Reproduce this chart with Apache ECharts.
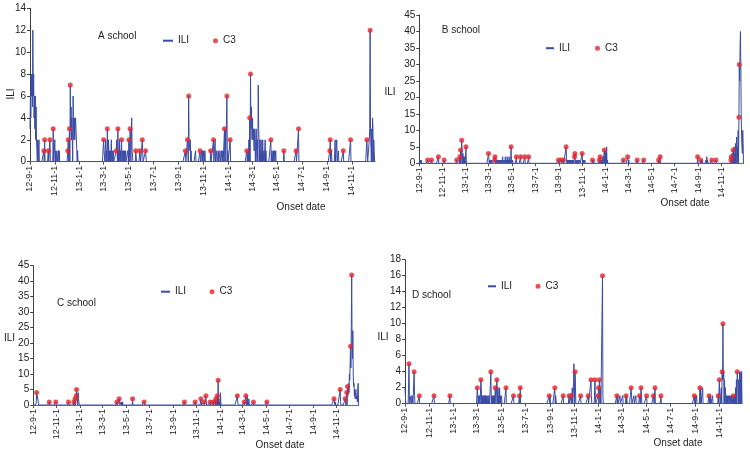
<!DOCTYPE html>
<html>
<head>
<meta charset="utf-8">
<script src="https://cdn.jsdelivr.net/npm/echarts@6/dist/echarts.min.js"></script>
<style>html,body{margin:0;padding:0;background:#fff}#c{width:750px;height:453px}</style>
</head>
<body>
<div id="c"></div>
<script>
// Day 0 = 2012-09-01; x values are days since that date
const START = '2012-09-01';
const LAST_DAY = 848;
const tickLabels = ['12-9-1','12-11-1','13-1-1','13-3-1','13-5-1','13-7-1','13-9-1','13-11-1','14-1-1','14-3-1','14-5-1','14-7-1','14-9-1','14-11-1'];
const schools = ['A school','B school','C school','D school'];

// ILI daily counts (days with non-zero counts) [day, count]
const iliA = [[0,3],[1,6],[2,4],[3,8],[4,6],[5,8],[6,5],[7,12],[8,6],[9,8],[10,4],[11,6],[12,3],[13,6],[14,2],[15,5],[16,2],[17,1],[19,2],[22,2],
[61,2],[63,1],[66,1],[70,1],[72,1],
[100,3],[101,5],[102,2],[103,4],[104,2],[106,6],[107,3],[108,2],[109,4],[110,2],[111,2],[112,4],[113,3],[114,3],[115,1],[117,1],
[182,1],[183,1],[185,1],[186,2],[188,1],[191,1],[193,2],[195,1],[197,1],[200,2],[202,1],[205,1],[213,2],[214,1],[218,1],[220,2],[222,1],[227,1],[228,1],[230,1],[232,1],[235,1],[240,1],[241,1],[247,2],[250,4],[251,1],[252,1],[261,1],[271,1],[277,1],[285,1],
[388,2],[391,2],[392,2],[393,1],[394,2],[396,1],[407,1],
[422,1],[424,1],[427,1],[430,1],[455,2],[459,1],[463,1],[467,1],[471,1],[474,1],[480,3],[486,1],
[536,1],[538,2],[543,3],[544,5],[545,3],[546,2],[547,4],[548,2],[549,3],[550,2],[551,1],[552,3],[553,2],[555,2],[556,3],[557,1],[559,2],[561,7],[562,3],[563,2],[565,2],[566,1],[568,2],[570,1],[572,2],[575,1],[578,2],[580,1],
[595,1],[598,1],[601,1],[604,1],
[741,1],[750,2],[754,2],[758,1],
[829,1],[834,2],[835,3],[837,3],[838,3],[840,3],[842,4],[843,3],[845,2],[846,1]];
const c3A = [[34,1],[36,2],[45,1],[49,2],[57,3],[93,1],[94,2],[97,3],[99,7],[181,2],[190,3],[212,1],[216,3],[225,2],[243,2],[246,3],[260,1],[270,1],[276,2],[284,1],[382,1],[387,2],[390,6],[418,1],[444,1],[451,2],[478,3],[484,6],[492,2],[533,1],[540,4],[542,8],[592,2],[624,1],[654,1],[660,3],[737,1],[738,2],[770,1],[788,2],[828,2],[836,12]];

const iliB = [[1,1],[3,1],[5,1],[112,3],[114,3],[116,2],[117,1],[119,2],
[182,2],[184,1],[186,1],[190,1],[200,1],[202,1],[205,1],[208,1],[210,1],[213,1],[215,1],[218,2],[220,1],[223,1],[225,2],[228,1],[230,2],[233,1],[235,2],[238,1],[241,1],[244,1],
[385,2],[387,1],[390,1],[393,1],[395,1],[398,1],[400,1],[403,1],[410,1],[413,1],[416,1],[420,1],[428,1],[430,1],[433,1],[456,1],[475,1],[478,1],[480,2],[486,3],[488,4],[490,5],[492,1],[546,1],[548,1],
[740,1],[750,1],[752,2],[754,1],
[818,3],[823,5],[825,3],[827,6],[829,4],[830,8],[832,5],[834,10],[838,25],[839,35],[840,40],[841,30],[842,15],[843,8],[844,5],[845,3],[846,10],[847,6]];
const c3B = [[22,1],[32,1],[50,2],[65,1],[98,1],[106,2],[108,4],[111,7],[122,5],[181,3],[197,1],[198,2],[240,5],[254,2],[265,2],[276,2],[286,2],[364,1],[371,1],[377,1],[384,5],[406,2],[407,3],[426,3],[453,1],[471,1],[473,2],[484,4],[534,1],[545,2],[570,1],[587,1],[626,1],[630,2],[728,2],[736,1],[765,1],[776,1],[815,1],[816,2],[821,4],[836,14],[837,30]];

const iliC = [[8,1],[10,2],[11,3],[12,2],[13,1],[114,3],[115,2],[117,4],[118,2],[119,1],[225,1],[229,1],[231,1],[233,1],[438,1],[451,1],[478,1],[484,2],[486,1],[488,4],[489,1],[533,1],[555,2],[558,3],[560,1],[562,2],[785,1],[787,1],[801,1],[814,1],[820,3],[821,5],[822,7],[823,4],[824,10],[825,8],[826,14],[828,12],[829,25],[831,20],[832,15],[833,24],[834,10],[835,6],[836,7],[837,3],[838,5],[839,2],[840,4],[841,5],[842,2],[843,3],[844,3],[845,1],[846,6],[847,7]];
const c3C = [[9,4],[42,1],[59,1],[92,1],[106,1],[109,2],[112,3],[113,5],[218,1],[224,2],[259,2],[289,1],[394,1],[422,1],[437,2],[445,1],[450,3],[461,1],[469,1],[474,1],[476,2],[480,3],[482,8],[532,3],[550,1],[554,3],[574,1],[609,1],[784,2],[800,5],[813,2],[817,4],[819,6],[827,19],[830,42]];

const iliD = [[0,2],[1,2],[11,1],[15,1],[18,1],[19,1],[24,1],
[183,1],[185,1],[188,1],[192,2],[194,1],[196,1],[198,1],[200,1],[202,1],[204,1],[206,1],[209,1],[212,1],[217,1],[219,1],[221,1],[223,1],[225,1],[228,1],[232,2],[234,2],[236,1],[238,2],[240,1],[243,1],
[365,1],[379,1],[380,1],[421,2],[424,2],[425,5],[426,3],[429,2],[469,1],[479,1],[490,2],[492,2],[498,1],
[535,1],[541,1],[548,1],[558,1],[570,1],[576,1],[581,1],[591,1],[595,1],[626,1],
[730,1],[734,1],[744,2],[749,2],[767,1],[769,1],[774,1],[792,1],[796,2],[799,3],[801,3],[802,4],[804,3],[806,2],[807,2],[809,1],[811,1],[814,1],[817,1],[820,1],[822,1],[828,1],[830,1],[832,2],[834,3],[837,3],[838,2],[840,3],[842,4],[843,2],[845,4],[847,4]];
const c3D = [[10,5],[23,4],[36,1],[73,1],[113,1],[182,2],[191,3],[216,4],[227,2],[231,3],[254,2],[273,1],[288,1],[290,2],[363,1],[377,2],[398,1],[413,1],[418,1],[428,4],[442,1],[461,1],[468,3],[478,3],[486,1],[487,2],[489,3],[497,16],[533,1],[556,1],[569,2],[590,1],[594,2],[608,1],[625,1],[629,2],[644,1],[728,1],[742,2],[765,1],[788,1],[791,3],[798,4],[800,10],[826,1],[836,4]];

const yMax = [14, 45, 45, 18];
const yStep = [2, 5, 5, 2];

// ---------- build ----------
const ILI_COLOR = '#3a4ba6';
const C3_COLOR = '#e3262d';
const FONT = 'Liberation Sans, Arial, sans-serif';
const startMs = Date.UTC(2012, 8, 1);
const tickDays = tickLabels.map(s => {
  const [y, m, d] = s.split('-').map(Number);
  return Math.round((Date.UTC(2000 + y, m - 1, d) - startMs) / 86400000);
});
const labelOf = {};
tickDays.forEach((d, i) => labelOf[d] = tickLabels[i]);

function daily(ili, c3) {
  const arr = new Array(LAST_DAY + 1).fill(0);
  ili.forEach(([d, v]) => arr[d] = Math.max(arr[d], v));
  c3.forEach(([d, v]) => arr[d] = Math.max(arr[d], v));
  return arr.map((v, i) => [i, v]);
}
const iliAll = [iliA, iliB, iliC, iliD];
const c3All = [c3A, c3B, c3C, c3D];

const grids = [
  {left: 30, top: 8.3, width: 345, height: 153.4},
  {left: 419.3, top: 15, width: 324.2, height: 148.3},
  {left: 33.2, top: 265.7, width: 325.4, height: 139.3},
  {left: 405, top: 259.7, width: 337, height: 144}
];
const titlePos = [[98, 36.7], [441.7, 30], [57, 303.3], [412, 295.7]];
const yNamePos = [[11, 94, true], [390, 92, false], [9.5, 338, false], [383, 337, false]];
const xNamePos = [[301, 207], [685, 203], [280, 445.7], [678, 443]];
const legIli = [[163, 41.7, 10], [546, 49.2, 8], [161, 292.7, 9], [488, 287.3, 8]];
const legC3 = [[213, 41.7], [595, 49.2], [209.5, 292.7], [535.5, 287.3]];

const option = {
  animation: false,
  backgroundColor: '#fff',
  textStyle: {fontFamily: FONT},
  grid: grids.map(g => Object.assign({containLabel: false, outerBoundsMode: 'none'}, g)),
  xAxis: grids.map((g, i) => ({
    gridIndex: i, type: 'value', min: 0, max: LAST_DAY,
    axisLine: {show: true, lineStyle: {color: '#5a68a8', width: 1}},
    axisTick: {show: true, length: 3, customValues: tickDays, lineStyle: {color: '#555'}},
    axisLabel: {show: true, rotate: 90, fontSize: 9, color: '#222', margin: 4, fontFamily: FONT,
      customValues: tickDays, formatter: v => labelOf[Math.round(v)] || ''},
    splitLine: {show: false}
  })),
  yAxis: grids.map((g, i) => ({
    gridIndex: i, type: 'value', min: 0, max: yMax[i], interval: yStep[i],
    axisLine: {show: true, lineStyle: {color: '#404040', width: 1}},
    axisTick: {show: true, length: 3, lineStyle: {color: '#404040'}},
    axisLabel: {fontSize: 10, color: '#222', margin: 4, fontFamily: FONT},
    splitLine: {show: false}
  })),
  legend: [].concat(
    legIli.map(([x, y, w]) => ({data: [{name: 'ILI', icon: 'rect'}], left: x, top: y - 6, padding: 0,
      itemWidth: w, itemHeight: 2, textStyle: {fontSize: 10, color: '#222', fontFamily: FONT}, selectedMode: false})),
    legC3.map(([x, y]) => ({data: [{name: 'C3', icon: 'circle'}], left: x, top: y - 6, padding: 0,
      itemWidth: 5, itemHeight: 5, textStyle: {fontSize: 10, color: '#222', fontFamily: FONT}, selectedMode: false}))
  ),
  graphic: [].concat(
    schools.map((s, i) => ({type: 'text', x: titlePos[i][0], y: titlePos[i][1], silent: true,
      style: {text: s, fontSize: 10, fontFamily: FONT, fill: '#222', textVerticalAlign: 'middle', textAlign: 'left'}})),
    yNamePos.map(([x, y, rot]) => ({type: 'text', x: x, y: y, rotation: rot ? Math.PI / 2 : 0, silent: true,
      style: {text: 'ILI', fontSize: 10, fontFamily: FONT, fill: '#222', textVerticalAlign: 'middle', textAlign: 'center'}})),
    xNamePos.map(([x, y]) => ({type: 'text', x: x, y: y, silent: true,
      style: {text: 'Onset date', fontSize: 10, fontFamily: FONT, fill: '#222', textVerticalAlign: 'middle', textAlign: 'center'}}))
  ),
  series: [].concat(
    iliAll.map((d, i) => ({name: 'ILI', type: 'line', xAxisIndex: i, yAxisIndex: i,
      data: daily(d, c3All[i]), showSymbol: false, symbol: 'none', silent: true,
      lineStyle: {color: ILI_COLOR, width: 1}, itemStyle: {color: ILI_COLOR}, z: 2})),
    c3All.map((d, i) => ({name: 'C3', type: 'scatter', xAxisIndex: i, yAxisIndex: i,
      data: d, symbol: 'circle', symbolSize: 5, silent: true,
      itemStyle: {color: C3_COLOR}, z: 3}))
  )
};
const chart = echarts.init(document.getElementById('c'), null, {renderer: 'canvas'});
chart.setOption(option);
</script>
</body>
</html>
